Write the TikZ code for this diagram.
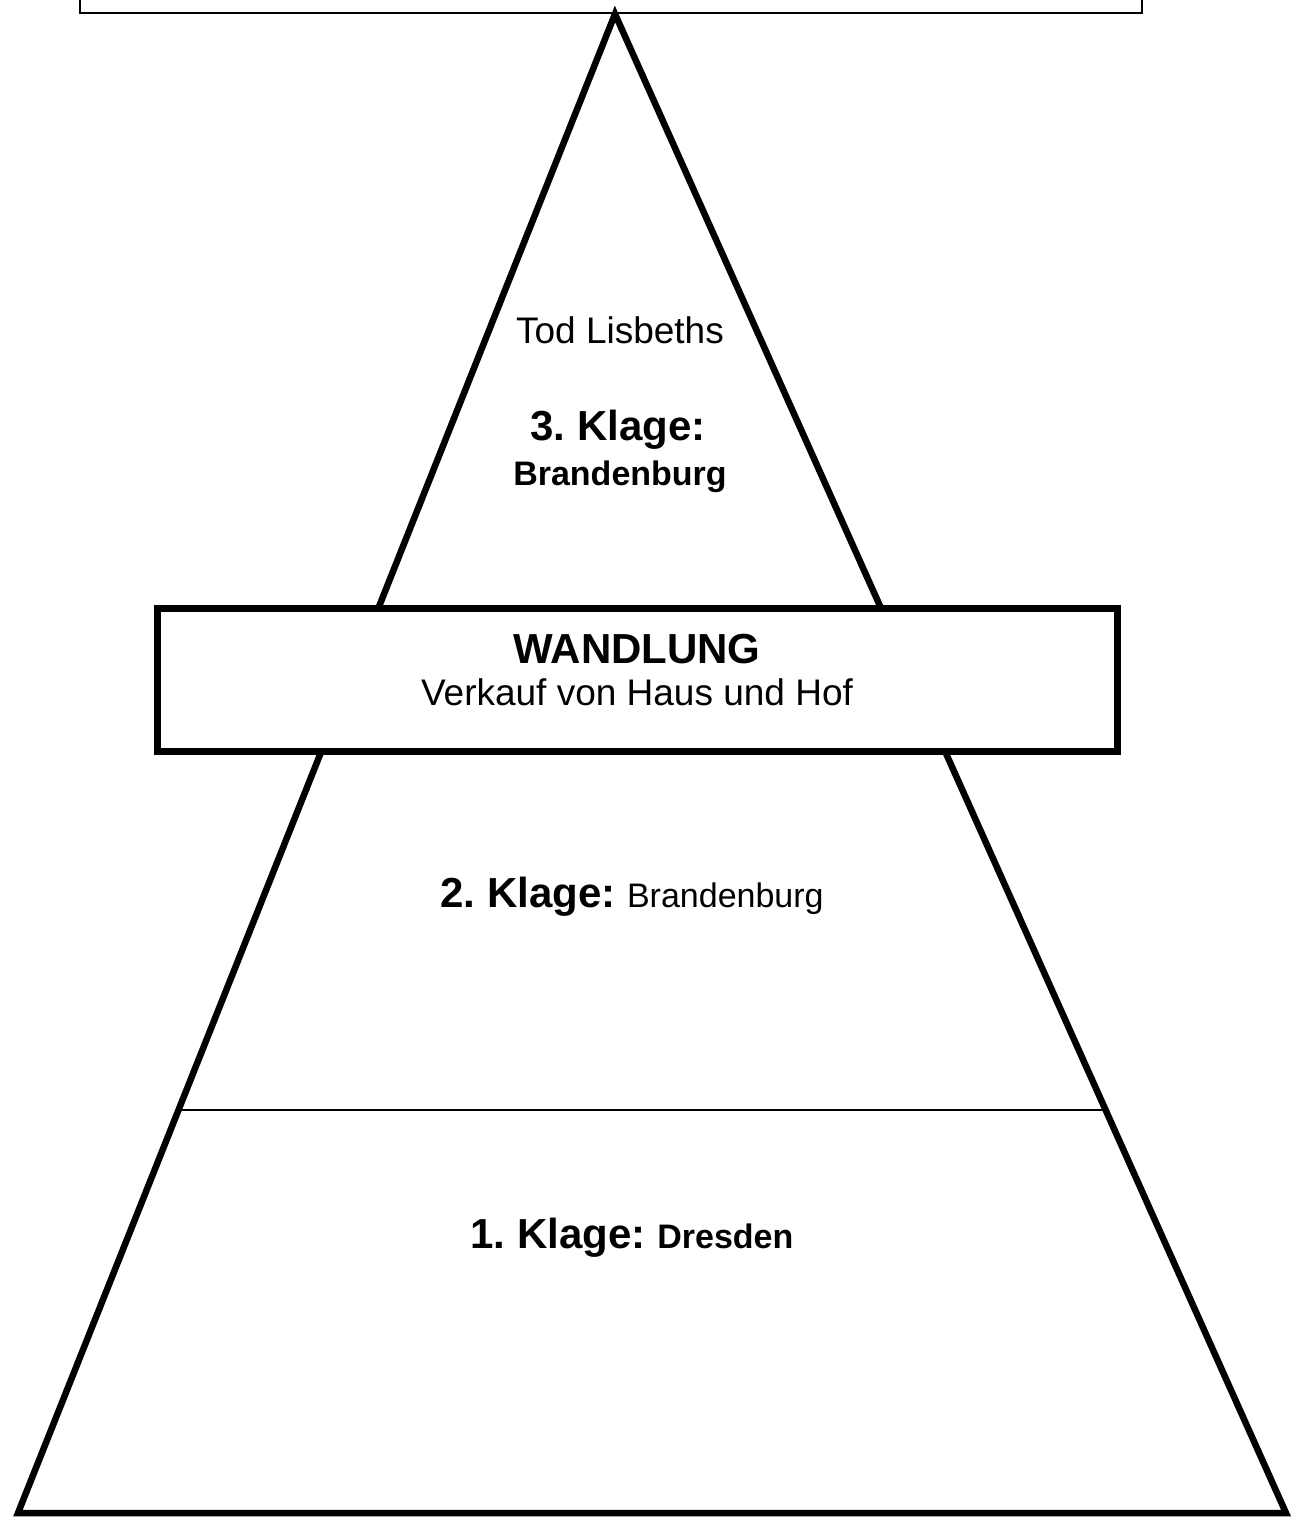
\documentclass[tikz,border=0pt]{standalone}
\usepackage{fontspec}
\setmainfont{Liberation Sans}
\usetikzlibrary{calc}
\frenchspacing
\tikzset{
  outline/.style={line width=6.5pt, line join=miter},
  txt/.style={anchor=base, inner sep=0pt},
  bigb/.style={txt, font=\fontsize{42}{48}\selectfont\bfseries},
  reg/.style={txt, font=\fontsize{37}{42}\selectfont},
}
\begin{document}
\begin{tikzpicture}[x=1pt,y=-1pt]
\useasboundingbox (0,0) rectangle (1296,1520);
% top box (cut off)
\node[draw, line width=2pt, minimum width=1062pt, minimum height=60pt, inner sep=0pt] (topbox) at (611,-17) {};
% triangle
\coordinate (apex) at (615,14);
\coordinate (bl) at (18,1513);
\coordinate (br) at (1286,1513);
\draw[outline] (apex) -- (bl) -- (br) -- cycle;
% divider
\coordinate (dl) at ($(apex)!0.731!(bl)$);
\coordinate (dr) at ($(apex)!0.731!(br)$);
\draw[line width=1.5pt] (dl) -- (dr);
% middle box
\node[draw, fill=white, line width=7pt, minimum width=960pt, minimum height=143pt, inner sep=0pt] (wbox) at (637,679.5) {};
\node[bigb] (wand) at (637,663) {WANDLUNG};
\node[reg] (verk) at (637,705) {Verkauf von Haus und Hof};
% top section
\node[reg] (tod) at (620,343) {Tod Lisbeths};
\node[bigb] (k3) at (618,440) {3. Klage:};
\node[txt, font=\fontsize{34}{40}\selectfont\bfseries] (b3) at (620,485) {Brandenburg};
% second
\node[txt, font=\fontsize{34}{40}\selectfont] (k2) at (632,907) {{\fontsize{42}{48}\selectfont\bfseries 2. Klage:\ }Brandenburg};
% first
\node[txt, font=\fontsize{34}{40}\selectfont\bfseries] (k1) at (632,1248) {{\fontsize{42}{48}\selectfont 1. Klage:\ }Dresden};
\end{tikzpicture}
\end{document}
